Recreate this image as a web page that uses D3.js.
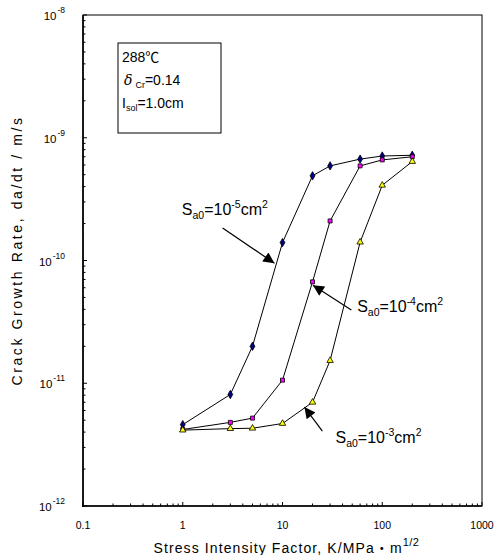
<!DOCTYPE html>
<html>
<head>
<meta charset="utf-8">
<script src="https://cdn.jsdelivr.net/npm/d3@7"></script>
<style>
  body { margin: 0; background: #fff; }
  svg { font-family: "Liberation Sans", Arial, "Noto Sans CJK JP", sans-serif; }
</style>
</head>
<body>
<div class="chart"></div>
<script>
// K values (MPa m^1/2) shared by all three curves
const kValues = [1, 3, 5, 10, 20, 30, 60, 100, 200];
// crack growth rate, m/s
const rateSa5 = [4.6e-12, 8.1e-12, 2.0e-11, 1.4e-10, 4.9e-10, 5.9e-10, 6.7e-10, 7.1e-10, 7.2e-10];
const rateSa4 = [4.2e-12, 4.8e-12, 5.2e-12, 1.06e-11, 6.7e-11, 2.1e-10, 5.9e-10, 6.6e-10, 7.0e-10];
const rateSa3 = [4.15e-12, 4.27e-12, 4.3e-12, 4.7e-12, 7.0e-12, 1.53e-11, 1.41e-10, 4.1e-10, 6.4e-10];
const xTicks = [0.1, 1, 10, 100, 1000];
const yExponents = [-12, -11, -10, -9, -8];

const width = 494;
const height = 555;
const margin = {top: 15, right: 12, bottom: 49, left: 83};

const svg = d3.select(".chart").append("svg")
    .attr("width", width)
    .attr("height", height);

const x = d3.scaleLog().domain([0.1, 1000]).range([margin.left, width - margin.right]);
const y = d3.scaleLog().domain([1e-12, 1e-8]).range([height - margin.bottom, margin.top]);

// arrow head
svg.append("defs").append("marker")
    .attr("id", "arrow")
    .attr("viewBox", "0 0 10 10")
    .attr("refX", 10).attr("refY", 5)
    .attr("markerWidth", 13).attr("markerHeight", 11)
    .attr("markerUnits", "userSpaceOnUse")
    .attr("orient", "auto")
    .append("path")
    .attr("d", "M0,0 L10,5 L0,10 Z")
    .attr("fill", "#000");

// frame
svg.append("rect")
    .attr("x", margin.left).attr("y", margin.top)
    .attr("width", width - margin.left - margin.right)
    .attr("height", height - margin.top - margin.bottom)
    .attr("fill", "none").attr("stroke", "#000").attr("stroke-width", 1);

// minor + major ticks, pointing inward
const xAll = [];
for (let e = -1; e < 3; e++) for (let m = 1; m < 10; m++) xAll.push(m * Math.pow(10, e));
xAll.push(1000);
svg.append("g").selectAll("line").data(xAll).join("line")
    .attr("x1", d => x(d)).attr("x2", d => x(d))
    .attr("y1", height - margin.bottom)
    .attr("y2", (d, i) => height - margin.bottom - (i % 9 === 0 ? 4 : 2.5))
    .attr("stroke", "#000");

const yAll = [];
for (let e = -12; e < -8; e++) for (let m = 1; m < 10; m++) yAll.push(m * Math.pow(10, e));
yAll.push(1e-8);
svg.append("g").selectAll("line").data(yAll).join("line")
    .attr("y1", d => y(d)).attr("y2", d => y(d))
    .attr("x1", margin.left)
    .attr("x2", (d, i) => margin.left + (i % 9 === 0 ? 4 : 2.5))
    .attr("stroke", "#000");

// thicker left and bottom axis lines
svg.append("line")
    .attr("x1", margin.left).attr("x2", margin.left)
    .attr("y1", margin.top).attr("y2", height - margin.bottom + 1)
    .attr("stroke", "#000").attr("stroke-width", 1.6);
svg.append("line")
    .attr("x1", margin.left - 1).attr("x2", width - margin.right)
    .attr("y1", height - margin.bottom).attr("y2", height - margin.bottom)
    .attr("stroke", "#000").attr("stroke-width", 1.6);

// x tick labels
svg.append("g").selectAll("text").data(xTicks).join("text")
    .attr("x", d => x(d))
    .attr("y", height - margin.bottom + 23)
    .attr("text-anchor", "middle")
    .attr("font-size", 10.5)
    .text(d => d);

// y tick labels, 10^n
const yLab = svg.append("g").selectAll("text").data(yExponents).join("text")
    .attr("x", margin.left - 18)
    .attr("y", d => y(Math.pow(10, d)) + 5)
    .attr("text-anchor", "end")
    .attr("font-size", 11.5)
    .text("10");
yLab.append("tspan")
    .attr("font-size", 8.5)
    .attr("dy", -7)
    .attr("dx", 1)
    .text(d => d < 0 ? "-" + (-d) : d);

// axis titles
svg.append("text")
    .attr("x", (margin.left + width - margin.right) / 2 + 4)
    .attr("y", height - 2)
    .attr("text-anchor", "middle")
    .attr("font-size", 14)
    .attr("letter-spacing", 1.1)
    .html("Stress Intensity Factor, K/MPa・m<tspan dy='-7' font-size='11' letter-spacing='0.5'>1/2</tspan>");

svg.append("text")
    .attr("transform", `translate(22, ${(margin.top + height - margin.bottom) / 2 - 10}) rotate(-90)`)
    .attr("text-anchor", "middle")
    .attr("font-size", 14)
    .attr("letter-spacing", 2.6)
    .text("Crack Growth Rate, da/dt / m/s");

// series
const series = [
    {name: "1e-5", values: rateSa5, fill: "#000080", shape: d3.symbolDiamond, size: 20},
    {name: "1e-4", values: rateSa4, fill: "#ff00ff", shape: d3.symbolSquare, size: 16},
    {name: "1e-3", values: rateSa3, fill: "#ffff00", shape: d3.symbolTriangle, size: 18}
];

const line = d3.line()
    .x(d => x(d[0]))
    .y(d => y(d[1]));

series.forEach(s => {
    const pts = kValues.map((k, i) => [k, s.values[i]]);
    svg.append("path")
        .datum(pts)
        .attr("d", line)
        .attr("fill", "none")
        .attr("stroke", "#000")
        .attr("stroke-width", 1);
    svg.append("g").selectAll("path").data(pts).join("path")
        .attr("transform", d => `translate(${x(d[0])},${y(d[1])})`)
        .attr("d", d3.symbol().type(s.shape).size(s.size))
        .attr("fill", s.fill)
        .attr("stroke", "#000")
        .attr("stroke-width", 0.8);
});

// annotations: text anchor (K, rate), arrow start and tip (K, rate)
const annotations = [
    {exp: "-5", text: [0.98, 2.35e-10], from: [2.51, 1.84e-10], to: [8.3, 9.5e-11]},
    {exp: "-4", text: [56, 3.8e-11], from: [49, 3.95e-11], to: [20.2, 6.3e-11]},
    {exp: "-3", text: [34, 3.26e-12], from: [25.1, 4.08e-12], to: [16.6, 6.4e-12]}
];

annotations.forEach(a => {
    svg.append("line")
        .attr("x1", x(a.from[0])).attr("y1", y(a.from[1]))
        .attr("x2", x(a.to[0])).attr("y2", y(a.to[1]))
        .attr("stroke", "#000").attr("stroke-width", 1.2)
        .attr("marker-end", "url(#arrow)");
    const t = svg.append("text")
        .attr("x", x(a.text[0])).attr("y", y(a.text[1]))
        .attr("font-size", 16);
    t.append("tspan").text("S");
    t.append("tspan").attr("font-size", 10.5).attr("dy", 4).text("a0");
    t.append("tspan").attr("dy", -4).text("=10");
    t.append("tspan").attr("font-size", 10.5).attr("dy", -7).text(a.exp);
    t.append("tspan").attr("dy", 7).text("cm");
    t.append("tspan").attr("font-size", 10.5).attr("dy", -7).text("2");
});

// condition box
const box = svg.append("g").attr("transform", `translate(${margin.left + 35}, ${margin.top + 28})`);
box.append("rect")
    .attr("width", 103).attr("height", 90)
    .attr("fill", "#fff").attr("stroke", "#000").attr("stroke-width", 1);
box.append("text").attr("x", 4).attr("y", 19).attr("font-size", 14).text("288℃");
const d2 = box.append("text").attr("x", 6).attr("y", 42).attr("font-size", 14);
d2.append("tspan").attr("font-style", "italic").attr("font-family", "DejaVu Serif").text("δ");
d2.append("tspan").attr("font-size", 9).attr("dy", 3).attr("dx", 3).text("Cr");
d2.append("tspan").attr("dy", -3).text("=0.14");
const d3t = box.append("text").attr("x", 4).attr("y", 65).attr("font-size", 14);
d3t.append("tspan").text("I");
d3t.append("tspan").attr("font-size", 9).attr("dy", 3).text("sol");
d3t.append("tspan").attr("dy", -3).text("=1.0cm");
</script>
</body>
</html>
